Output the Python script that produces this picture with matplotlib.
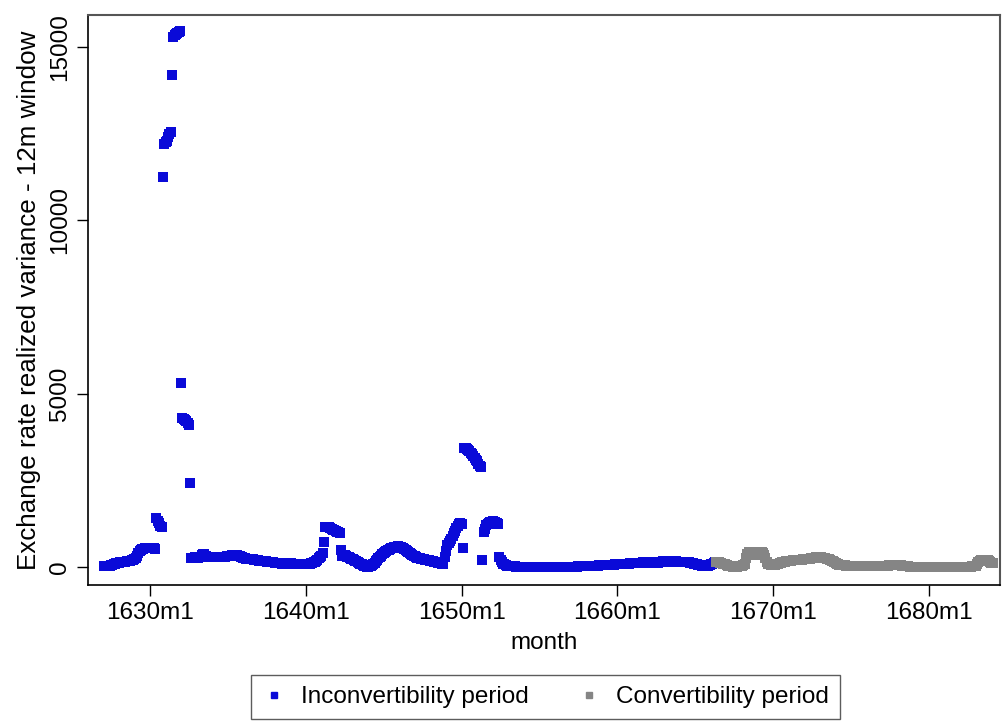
import numpy as np
import matplotlib.pyplot as plt
from matplotlib.lines import Line2D

plt.rcParams['font.family'] = ['Liberation Sans', 'DejaVu Sans']

# monthly series, Stata style labels (1630m1 = Jan 1630)
inconv_start = '1627m2'
conv_start = '1666m5'

# Inconvertibility period: realized variance, one value per month
inconv = [
    # 1627-1629
    20, 30, 30, 40, 40, 50, 60, 80,
    100, 110, 120, 120, 130, 130, 140, 150, 150, 160,
    170, 170, 180, 190, 200, 220, 260, 320,
    400, 460, 500, 520, 530, 540, 550, 560, 560, 560, 550, 550, 540, 530,
    1400, 1340, 1260, 1180, 1140,
    # 1630-1632 spike
    11260,
    12200, 12250, 12300, 12400, 12480, 12550,
    14190,
    15300, 15330, 15380, 15400, 15430, 15450,
    5300,
    4300, 4280, 4250, 4200, 4150, 4100,
    2420,
    # 1632-1641
    260, 270, 270, 280, 280, 270, 280, 300,
    340, 380, 370, 330, 300,
    290, 290, 280, 290, 300, 290, 280, 280, 290, 300, 300, 290, 290, 300, 310, 320, 320,
    330, 340, 350, 350, 340, 340, 330, 320, 300, 280, 260,
    250, 240, 240, 230, 230, 220, 220, 210, 200, 200, 190, 180, 180,
    170, 170, 160, 160, 150, 150, 140, 140, 130, 130, 120, 120, 120,
    110, 110, 110, 100, 100, 100, 110, 110, 120, 120, 110, 100, 100, 90, 90, 90, 90, 90,
    80, 80, 80, 90, 90, 100, 100, 110, 120, 130, 140, 160,
    200, 250, 290, 330, 400,
    # 1641-1642
    720,
    1150, 1160, 1150, 1140, 1120, 1100, 1080, 1060, 1040, 1020, 1000, 980,
    490,
    330, 350, 340, 320, 300, 280, 260, 240,
    220, 200, 180, 160, 140, 120, 100, 80, 60, 40,
    20, 10, 10, 20, 40, 60, 90, 120, 160, 200, 250,
    # 1644-1648
    290, 330, 370, 400, 430, 460, 480, 500, 520, 540, 560, 570, 580, 590, 600, 590,
    580, 560, 540, 520, 500, 470, 440, 410, 380, 350,
    330, 310, 290, 270, 260, 250, 240, 230, 220, 210,
    200, 200, 190, 180, 170, 160, 150, 140, 130, 120,
    110, 110, 100, 100,
    # 1648-1652
    290, 450, 630,
    700, 750, 820, 900, 980, 1050, 1120, 1180, 1230, 1270, 1250,
    560,
    3430, 3420, 3400, 3380, 3350, 3300, 3250, 3200, 3150, 3100, 3050, 2980, 2920, 2870,
    200,
    1000, 1100, 1200, 1250, 1280, 1300, 1300, 1320, 1300, 1300, 1280, 1250,
    300, 200, 150, 100, 80, 60, 40,
    # 1653-1658
    30, 25, 20, 20, 15, 15, 10, 10, 10, 10,
    10, 10, 5, 5, 5, 5, 5, 5, 5, 5,
    5, 5, 5, 5, 5, 5, 5, 5, 5, 5,
    5, 5, 5, 5, 5, 5, 5, 5, 5, 5,
    5, 5, 5, 5, 10, 10, 10, 10, 10, 10,
    10, 10, 10, 10, 15, 15, 15, 15, 20, 20,
    20, 25, 25, 25, 30,
    # 1658-1666
    30, 35, 35, 40, 40, 45, 45, 50, 50, 55,
    60, 60, 65, 60, 60, 65, 70, 75, 80, 80,
    85, 90, 90, 85, 80, 85, 90, 95, 100, 105,
    110, 110, 115, 110, 105,
    110, 115, 120, 125, 130, 125, 120, 115, 120, 130,
    135, 140, 140, 135, 130, 125, 130, 140, 150, 160,
    165, 170, 165, 160, 150, 145, 150, 155, 160, 160,
    155, 150, 145, 150, 155, 150, 145,
    140, 135, 130, 125, 120, 110, 100, 90, 80, 70,
    60, 50, 40, 35, 30, 30, 30, 40, 60, 80,
    100, 120, 130,
]

# Convertibility period
conv = [
    150, 140, 130, 120, 110, 100, 90, 80,
    60, 40, 30, 20, 15, 10, 10, 10, 10, 15, 20, 30, 40, 60, 100,
    250, 380, 420, 430, 430, 420, 380, 350, 360, 400, 430, 440, 430, 400, 350, 250,
    150, 100, 80, 60, 60, 60, 70, 80, 90, 100, 110, 120, 130, 140,
    150, 160, 170, 170, 180, 180, 190, 190, 200, 200, 200, 210, 210, 210,
    220, 220, 230, 230, 240, 240, 250, 250, 260, 270, 280, 290, 290,
    290, 280, 270, 260, 250, 240, 230, 220, 200, 180, 160, 140, 120, 100,
    80, 70, 60, 60, 50, 50, 40, 40, 30, 30,
    30, 30, 25, 25, 20, 20, 20, 20, 20, 15, 15, 15, 15, 15, 15, 15,
    20, 20, 20, 20, 20, 20, 20, 20, 20, 25, 30, 35, 40, 45, 50, 55, 60,
    60, 60, 60, 55, 50, 45, 40, 30, 25, 20, 15,
    15, 10, 10, 10, 10, 5, 5, 5, 5, 5,
    5, 5, 5, 5, 5, 5, 5, 5, 5, 5,
    5, 5, 5, 5, 5, 5, 5, 5, 5, 5,
    10, 10, 10, 10, 10, 10, 10, 10, 10, 10,
    10, 10, 10, 10, 10, 10, 10, 10, 10, 15,
    20, 25,
    40, 80, 130, 170, 200, 210, 210, 200, 200, 190, 180,
    140, 120, 110,
]

xtick_labels = ['1630m1', '1640m1', '1650m1', '1660m1', '1670m1', '1680m1']
yticks = [0, 5000, 10000, 15000]


def month_index(label):
    year, mon = label.split('m')
    return (int(year) - 1630) * 12 + int(mon) - 1


x_inconv = month_index(inconv_start) + np.arange(len(inconv))
x_conv = month_index(conv_start) + np.arange(len(conv))

blue = '#0a0ad8'
grey = '#858585'

fig = plt.figure(figsize=(10.03, 7.22), dpi=100)
ax = fig.add_axes([88 / 1003, (722 - 585) / 722, (1000 - 88) / 1003, (585 - 15) / 722])

ax.scatter(x_inconv, inconv, marker='s', s=42, color=blue, linewidths=0)
ax.scatter(x_conv, conv, marker='s', s=42, color=grey, linewidths=0)

ax.set_xlim(-47.7, 654.6)
ax.set_ylim(-519, 15921)

ax.set_xticks([month_index(l) for l in xtick_labels])
ax.set_xticklabels(xtick_labels)
ax.set_yticks(yticks)
ax.set_yticklabels([str(v) for v in yticks], rotation=90, va='center')
ax.tick_params(axis='both', direction='out', length=8, width=1, labelsize=17.5, pad=4)

ax.set_xlabel('month', fontsize=17.5, labelpad=6)
ax.set_ylabel('Exchange rate realized variance - 12m window', fontsize=18.7, labelpad=6)

for s in ['left', 'bottom']:
    ax.spines[s].set_color('black')
    ax.spines[s].set_linewidth(1.2)
for s in ['top', 'right']:
    ax.spines[s].set_color('#555555')
    ax.spines[s].set_linewidth(1.5)

handles = [
    Line2D([], [], marker='s', linestyle='', color=blue, markersize=4),
    Line2D([], [], marker='s', linestyle='', color=grey, markersize=4),
]
leg = fig.legend(handles, ['Inconvertibility period', 'Convertibility period'],
                 loc='center', bbox_to_anchor=(545.5 / 1003, 1 - 697 / 722), ncol=2,
                 fontsize=17.5, frameon=True, fancybox=False, edgecolor='#333333',
                 handletextpad=0.6, columnspacing=2.0, borderpad=0.45, handlelength=1.0)
leg.get_frame().set_linewidth(1.0)

fig.savefig('out.png', dpi=100)
